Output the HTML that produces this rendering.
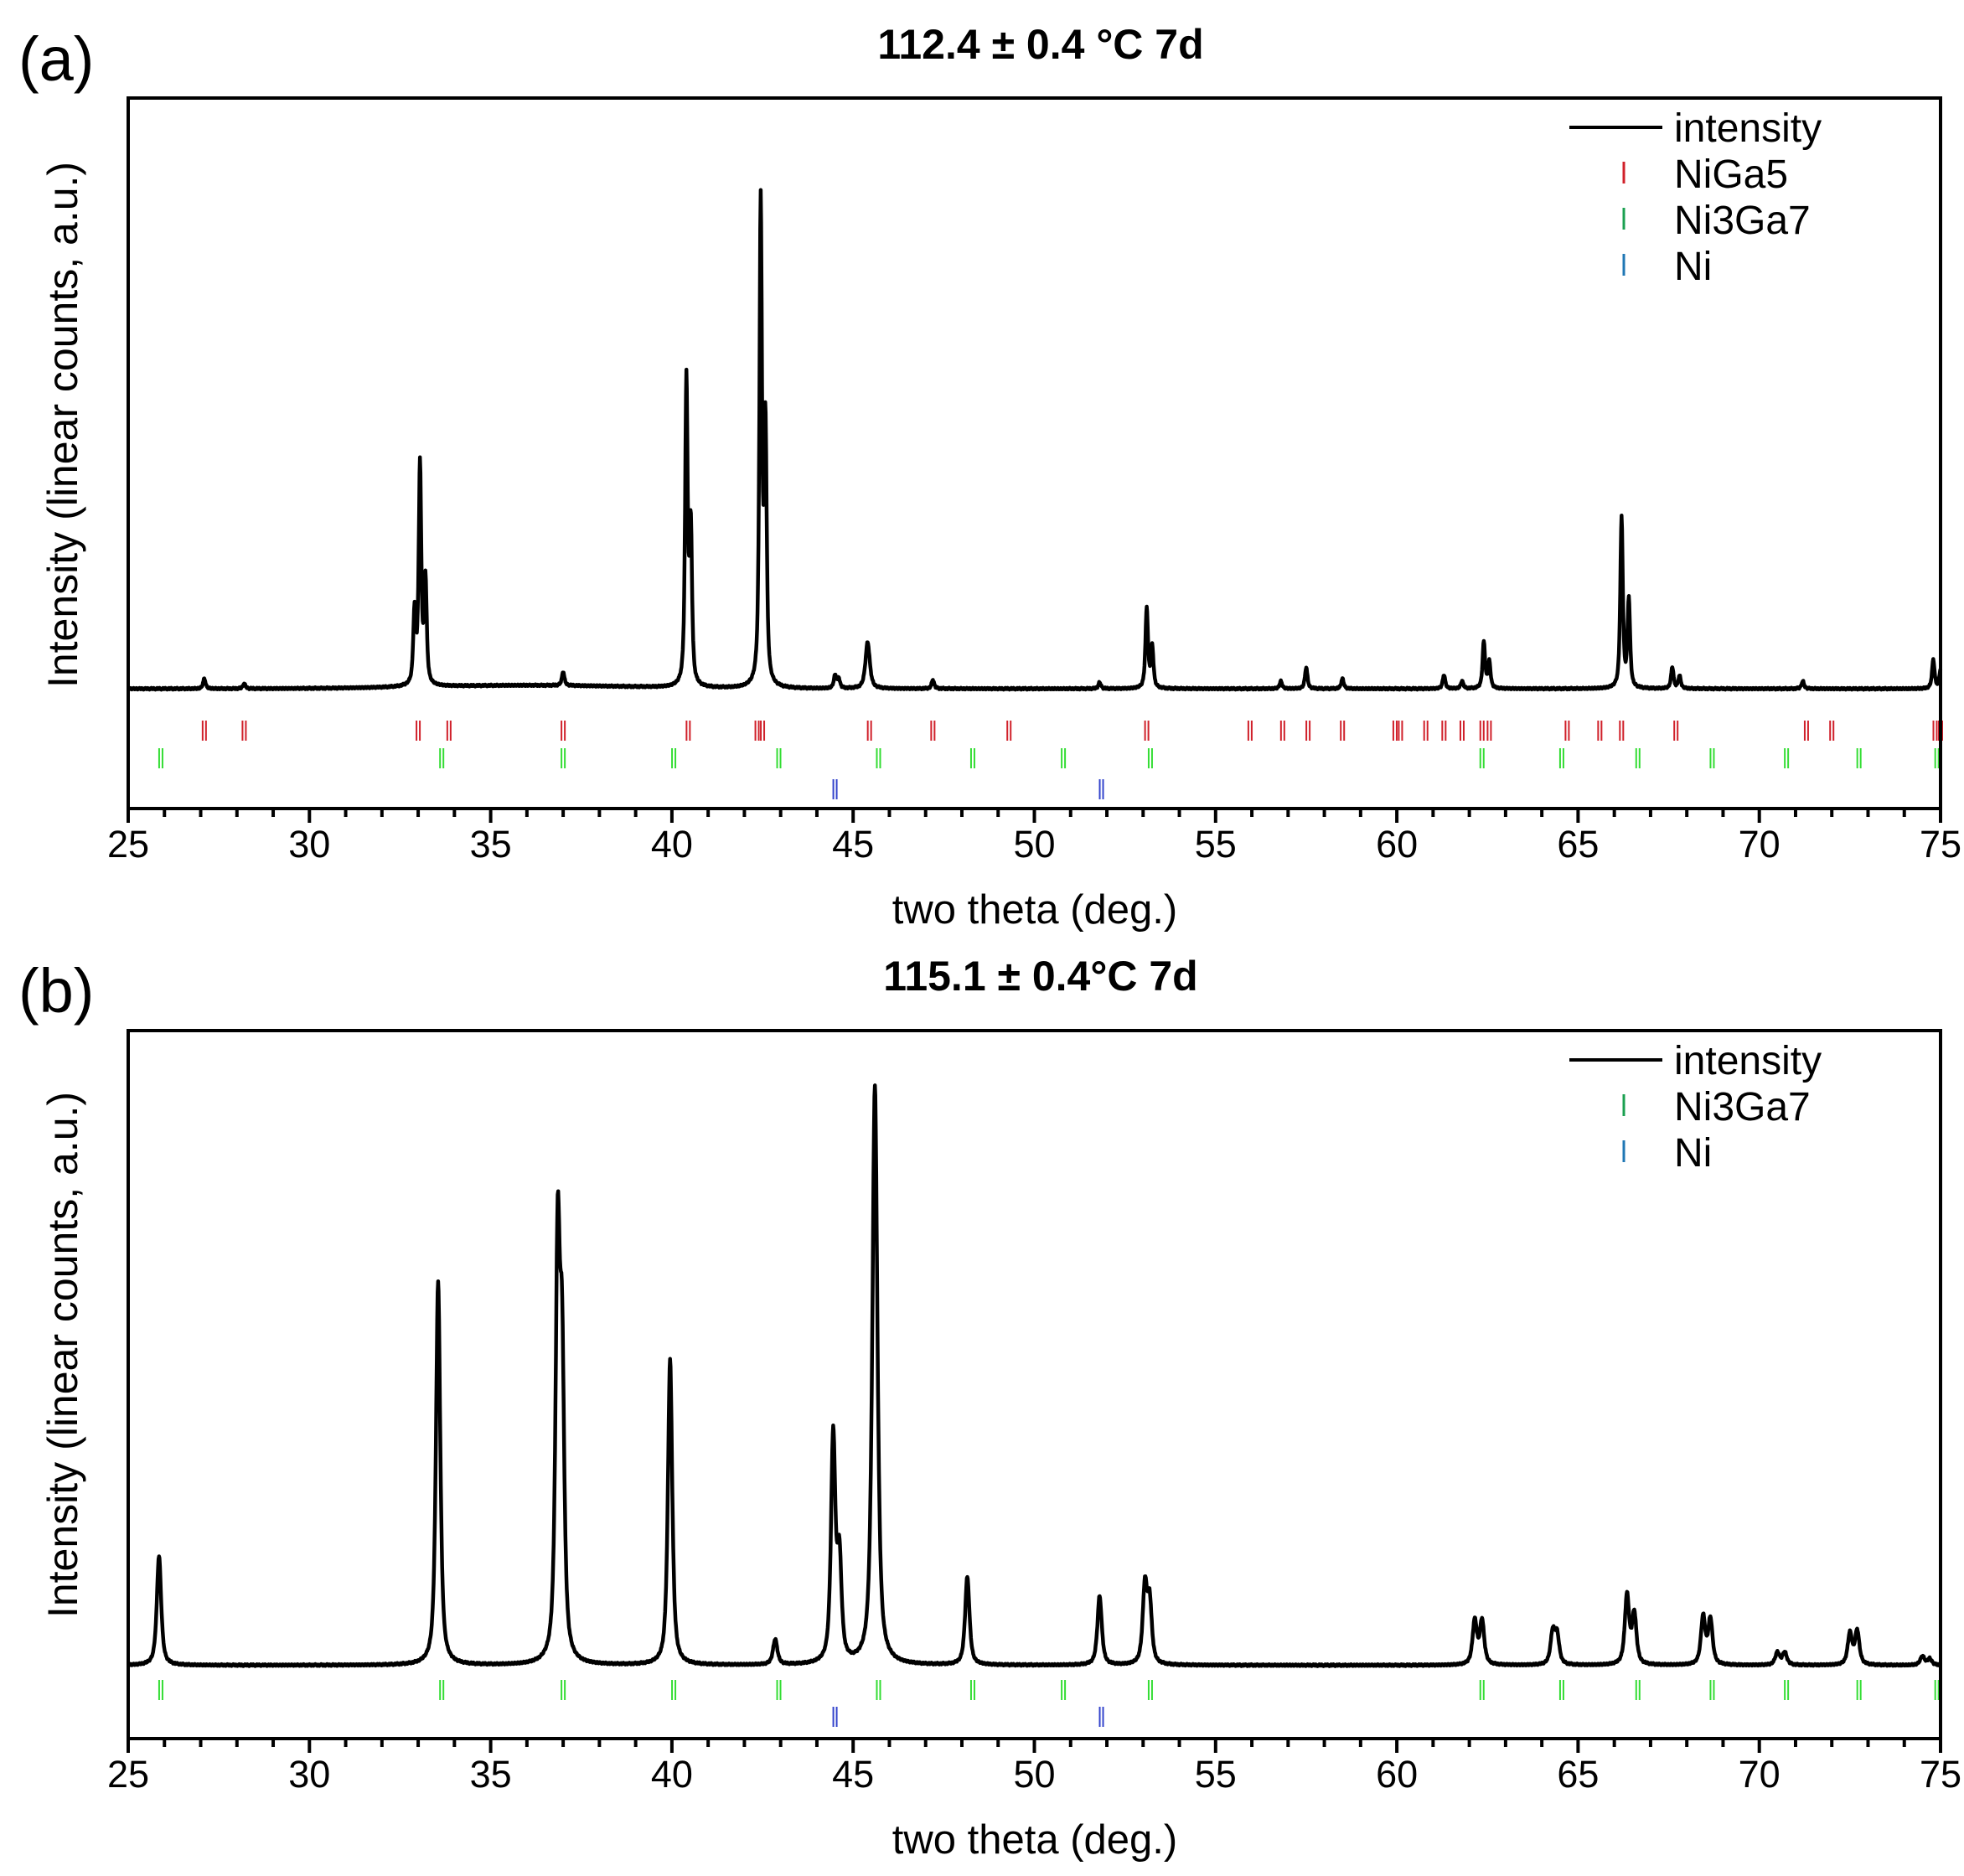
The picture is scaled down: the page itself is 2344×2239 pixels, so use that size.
<!DOCTYPE html>
<html><head><meta charset="utf-8"><style>
html,body{margin:0;padding:0;background:#fff;}
svg text{font-family:"Liberation Sans",sans-serif;}
</style></head><body>
<svg id="s" width="2344" height="2234" xmlns="http://www.w3.org/2000/svg">
<rect width="2344" height="2234" fill="#fff"/>
<text x="22" y="96" font-size="74">(a)</text>
<text x="22" y="1208" font-size="74">(b)</text>
<text x="1242" y="70" font-size="50" font-weight="bold" text-anchor="middle">112.4 ± 0.4 °C 7d</text>
<text x="1242" y="1182" font-size="50" font-weight="bold" text-anchor="middle">115.1 ± 0.4°C 7d</text>
<text x="1235" y="1102" font-size="49" text-anchor="middle">two theta (deg.)</text>
<text x="1235" y="2212" font-size="49" text-anchor="middle">two theta (deg.)</text>
<text transform="translate(92,507) rotate(-90)" font-size="50" text-anchor="middle">Intensity (linear counts, a.u.)</text>
<text transform="translate(92,1617) rotate(-90)" font-size="50" text-anchor="middle">Intensity (linear counts, a.u.)</text>
<g id="g"></g>
</svg>
<script>
var X0=153,X1=2316;function X(t){return X0+(t-25)*(X1-X0)/50;}
var g=document.getElementById('g'),h='';
function panel(top,bot,base,peaks,w,hump,red,green,blue,ry,gy,by,legend){
 var d='';for(var i=0;i<=4000;i++){var t=25+i*50/4000;var y=base-(hump?4*Math.exp(-Math.pow((t-36)/4,2)):0)+1.2*Math.sin(i*1.7)*Math.cos(i*0.73);
 for(var k=0;k<peaks.length;k++){var p=peaks[k];var dx=(t-p[0])/(p[2]||w);y-=p[1]/(1+dx*dx*2)*(0.5+0.5*Math.exp(-dx*dx));}
 d+=(i?'L':'M')+X(t).toFixed(1)+' '+y.toFixed(1);}
 h+='<path d="'+d+'" fill="none" stroke="#000" stroke-width="4.5" stroke-linejoin="round"/>';
 function sticks(arr,y,c){arr.forEach(function(t){var x=X(t);h+='<line x1="'+(x-2)+'" x2="'+(x-2)+'" y1="'+y+'" y2="'+(y+24)+'" stroke="'+c+'" stroke-width="2"/><line x1="'+(x+2)+'" x2="'+(x+2)+'" y1="'+y+'" y2="'+(y+24)+'" stroke="'+c+'" stroke-width="2"/>';});}
 if(red)sticks(red,ry,'#d0202a');sticks(green,gy,'#33dd33');sticks(blue,by,'#3344cc');
 h+='<rect x="'+X0+'" y="'+top+'" width="'+(X1-X0)+'" height="'+(bot-top)+'" fill="none" stroke="#000" stroke-width="4"/>';
 for(var t=25;t<=75;t++){var x=X(t),L=(t%5==0)?17:10;h+='<line x1="'+x+'" x2="'+x+'" y1="'+bot+'" y2="'+(bot+L)+'" stroke="#000" stroke-width="4"/>';
  if(t%5==0)h+='<text x="'+x+'" y="'+(bot+58)+'" font-size="45" text-anchor="middle">'+t+'</text>';}
 var ly=top+35;h+='<line x1="1873" x2="1984" y1="'+ly+'" y2="'+ly+'" stroke="#000" stroke-width="4"/><text x="1998" y="'+(ly+17)+'" font-size="48">intensity</text>';
 legend.forEach(function(l,i){var y=ly+55*(i+1);h+='<line x1="1938" x2="1938" y1="'+(y-14)+'" y2="'+(y+12)+'" stroke="'+l[1]+'" stroke-width="3"/><text x="1998" y="'+(y+17)+'" font-size="48">'+l[0]+'</text>';});
}
var s=1.5,ba=548;
var pa=[[27.1,540],[28.2,544],[32.9,490],[33.05,372],[33.2,465],[37.0,537],[40.4,304],[40.52,425],[42.45,165],[42.58,345],[44.5,538],[44.6,540],[45.4,511,0.12],[47.2,541],[51.8,543],[53.1,484],[53.25,515],[56.8,542],[57.5,531],[58.5,540],[61.3,537],[61.8,542],[62.4,511],[62.55,527],[66.2,413],[66.4,478],[67.6,531],[67.8,538],[71.2,542],[74.8,525],[75,533]].map(function(p){return [p[0],(ba-p[1])*s,p[2]];});
var bb=1325;
var pb=[[25.85,1238],[33.55,1020],[36.85,1002],[36.97,1100],[39.95,1082],[42.85,1305],[44.45,1145],[44.62,1245],[45.6,864,0.14],[48.15,1255],[51.8,1270],[53.05,1264],[53.18,1277],[62.15,1290],[62.35,1290],[64.3,1300],[64.42,1302],[66.35,1270],[66.55,1285],[68.45,1287],[68.65,1289],[70.5,1315],[70.7,1315],[72.5,1300],[72.7,1298],[74.5,1318],[74.7,1320]].map(function(p){return [p[0],(bb-p[1])*s,p[2]];});
var red=[27.1,28.2,33.0,33.85,37.0,40.45,42.35,42.5,45.45,47.2,49.3,53.1,55.95,56.85,57.55,58.5,59.95,60.1,60.8,61.3,61.8,62.35,62.55,64.7,65.6,66.2,67.7,71.3,72.0,74.85,75.0];
var green=[25.9,33.65,37.0,40.05,42.95,45.7,48.3,50.8,53.2,62.35,64.55,66.65,68.7,70.75,72.75,74.9];
var blue=[44.5,51.85];
panel(117,965,ba*s,pa,0.07,true,red,green,blue,860,893,930,[['NiGa5','#d0202a'],['Ni3Ga7','#1aa050'],['Ni','#1f77b4']]);
panel(1230,2075,bb*s,pb,0.12,false,null,green,blue,0,2005,2037,[['Ni3Ga7','#1aa050'],['Ni','#1f77b4']]);
g.innerHTML=h;
</script>
</body></html>
